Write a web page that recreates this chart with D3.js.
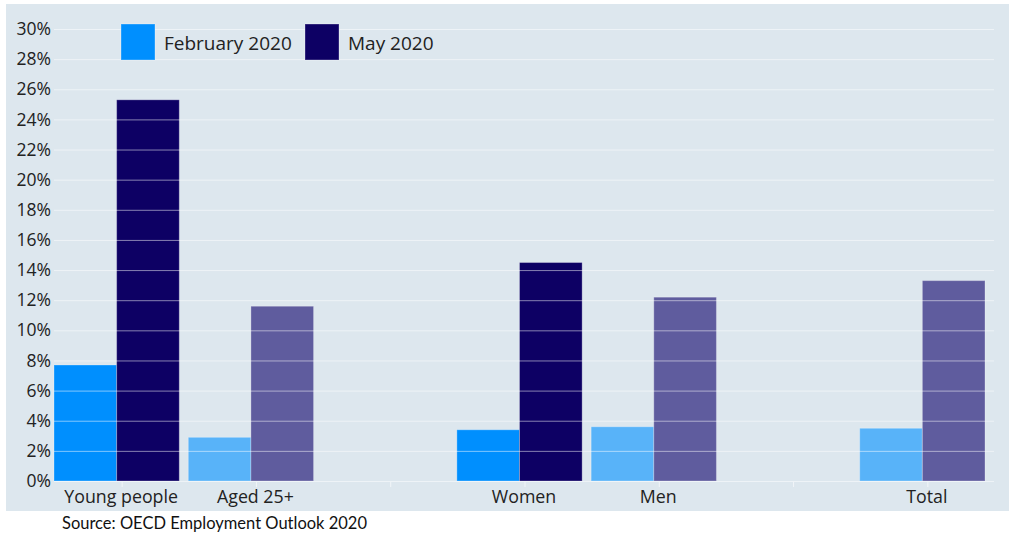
<!DOCTYPE html>
<html>
<head>
<meta charset="utf-8">
<script src="https://cdn.jsdelivr.net/npm/d3@7"></script>
<style>
  html, body { margin: 0; padding: 0; background: #ffffff; }
  svg { display: block; }
</style>
</head>
<body>
<svg id="chart" width="1009" height="535"></svg>
<script>
// Unemployment-type rates by group, February vs May 2020 (%)
const categories = ["Young people", "Aged 25+", "Women", "Men", "Total"];
const feb2020 = [7.7, 2.9, 3.4, 3.6, 3.5];
const may2020 = [25.3, 11.6, 14.5, 12.2, 13.3];
const seriesNames = ["February 2020", "May 2020"];
const highlighted = ["Young people", "Women"];
const yTicks = [0, 2, 4, 6, 8, 10, 12, 14, 16, 18, 20, 22, 24, 26, 28, 30];

// empty slots separate the age, gender and total groups
const slots = ["Young people", "Aged 25+", "_gap1", "Women", "Men", "_gap2", "Total"];

const W = 1009, H = 535;
const margin = { left: 50, right: 19, top: 29, bottom: 54 };
const svg = d3.select("#chart");

const colors = {
  strong: ["#008ffe", "#0d0064"],
  soft: ["#58b3f9", "#5f5c9e"]
};

// panel background
svg.append("rect")
  .attr("x", 6).attr("y", 4)
  .attr("width", W - 6).attr("height", 507)
  .attr("fill", "#dde7ee");

const x0 = d3.scaleBand().domain(slots).range([margin.left, 990]).paddingInner(0).paddingOuter(0);
const x1 = d3.scaleBand().domain(seriesNames).range([4, x0.bandwidth() - 5]);
const y = d3.scaleLinear().domain([0, 30]).range([481, 29]);

const rows = categories.map((c, i) => ({ cat: c, values: [feb2020[i], may2020[i]] }));

// bars
const groups = svg.append("g").selectAll("g").data(rows).join("g")
  .attr("transform", d => `translate(${x0(d.cat)},0)`);

groups.selectAll("rect")
  .data(d => d.values.map((v, k) => ({ v, k, hi: highlighted.includes(d.cat) })))
  .join("rect")
  .attr("x", d => x1(seriesNames[d.k]))
  .attr("width", x1.bandwidth())
  .attr("y", d => y(d.v))
  .attr("height", d => y(0) - y(d.v))
  .attr("fill", d => (d.hi ? colors.strong : colors.soft)[d.k])
  .attr("stroke", "rgba(255,255,255,0.28)")
  .attr("stroke-width", 1);

// horizontal gridlines, drawn over the bars
svg.append("g").selectAll("line").data(yTicks).join("line")
  .attr("x1", 54).attr("x2", 994)
  .attr("y1", d => y(d) + 0.5).attr("y2", d => y(d) + 0.5)
  .attr("stroke", "rgba(255,255,255,0.5)")
  .attr("stroke-width", 1);

// small tick marks under the category axis
svg.append("g").selectAll("line").data(slots).join("line")
  .attr("x1", d => x0(d) + x0.bandwidth() / 2 + 5)
  .attr("x2", d => x0(d) + x0.bandwidth() / 2 + 5)
  .attr("y1", 482).attr("y2", 487)
  .attr("stroke", "rgba(255,255,255,0.6)");

// y axis labels
const yAxis = d3.axisLeft(y).tickValues(yTicks).tickFormat(d => d + "%").tickSize(0).tickPadding(0);
svg.append("g")
  .attr("transform", "translate(51,0)")
  .call(yAxis)
  .call(g => g.select(".domain").remove())
  .call(g => g.selectAll("text")
    .attr("fill", "#222")
    .attr("font-family", "'Open Sans', sans-serif")
    .attr("font-size", 17.5));

// category labels
const xAxis = d3.axisBottom(x0).tickValues(categories).tickSize(0).tickPadding(0);
svg.append("g")
  .attr("transform", "translate(4,490)")
  .call(xAxis)
  .call(g => g.select(".domain").remove())
  .call(g => g.selectAll("text")
    .attr("fill", "#222")
    .attr("dy", "0.71em")
    .attr("font-family", "'Open Sans', sans-serif")
    .attr("font-size", 17.8));

// legend
const legendX = [121, 305];
const legend = svg.append("g").selectAll("g").data(seriesNames).join("g")
  .attr("transform", (d, i) => `translate(${legendX[i]},24)`);
legend.append("rect")
  .attr("width", 34).attr("height", 36)
  .attr("fill", (d, i) => colors.strong[i])
  .attr("stroke", "rgba(255,255,255,0.3)");
legend.append("text")
  .attr("x", 43).attr("y", 25.5)
  .attr("fill", "#222")
  .attr("font-family", "'Open Sans', sans-serif")
  .attr("font-size", 19)
  .text(d => d);

// source note
svg.append("text")
  .attr("x", 62).attr("y", 529)
  .attr("fill", "#111")
  .attr("font-family", "Lato, sans-serif")
  .attr("font-size", 16.5)
  .text("Source: OECD Employment Outlook 2020");
</script>
</body>
</html>
